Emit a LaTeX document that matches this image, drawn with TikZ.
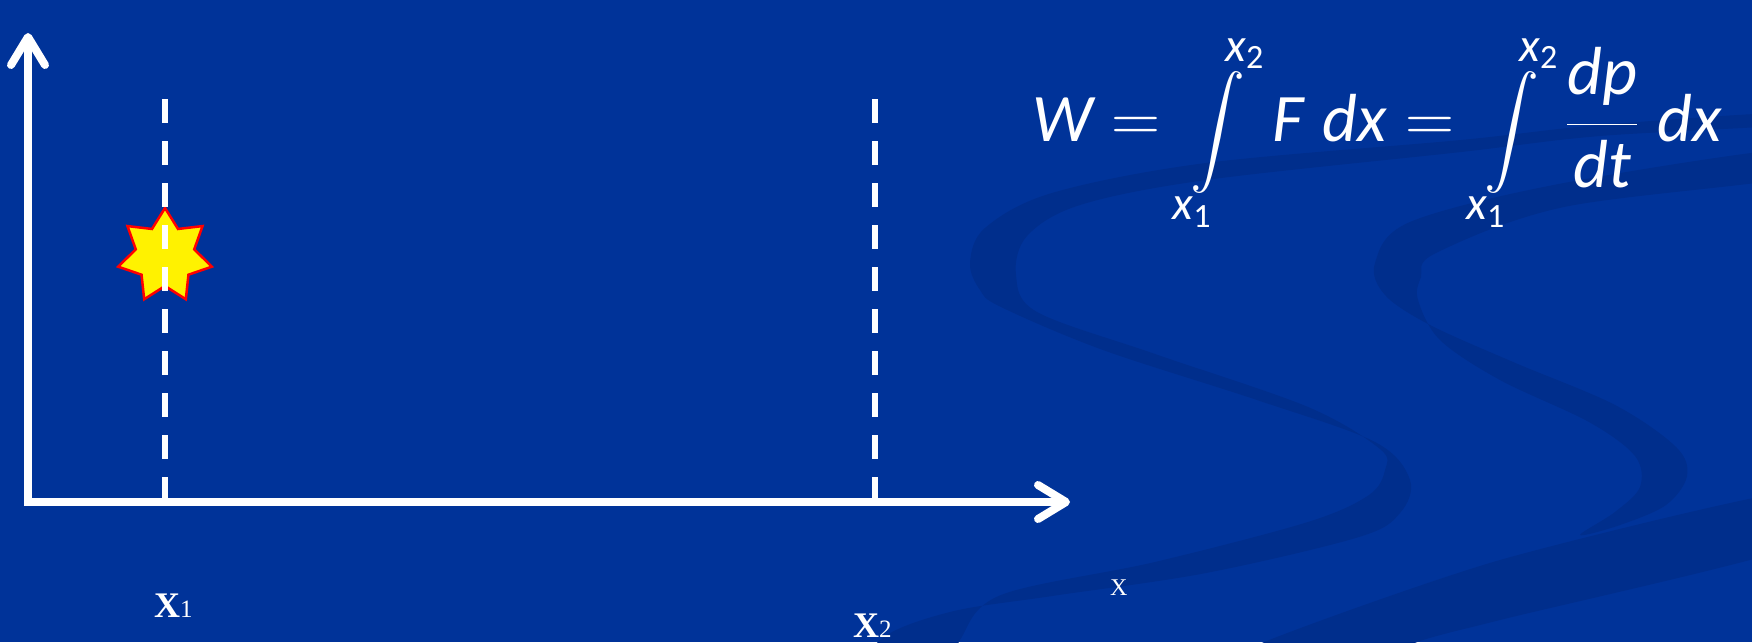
\RequirePackage{fix-cm}
\documentclass[tikz,border=0pt]{standalone}
\usepackage{amsmath}
\usepackage{fontspec}
\setmainfont{Liberation Serif}
\newfontfamily\calibri{Carlito}
\usetikzlibrary{arrows.meta}

\definecolor{bgblue}{RGB}{0,51,153}
\definecolor{swirlblue}{RGB}{0,46,140}

% буквы формулы в стиле Calibri
\newcommand{\mv}[1]{\text{\calibri\itshape #1}}
\newcommand{\md}[1]{\text{\calibri #1}}
% большой знак интеграла
\newcommand{\bigint}{\mathop{\lower8pt\hbox{$\vcenter{\hbox{%
    \resizebox*{!}{122pt}{$\displaystyle\intop$}}}$}}\limits}
% пределы интегрирования
\newcommand{\lowlim}{\mkern-10mu\mv{x}_{\md{1}}\mkern10mu}
\newcommand{\uplim}{\mkern10mu\mv{x}_{\md{2}}\mkern-10mu}

\begin{document}
\begin{tikzpicture}[
    x={(1pt,0pt)},
    y={(0pt,-1pt)},
    >={Straight Barb[length=28pt,width=34pt,round]},
    axis/.style={line width=8pt, white, line join=miter},
    guide/.style={
        line width=6pt,
        white,
        dash pattern=on 24pt off 18pt
    },
    starfill/.style={fill=yellow, draw=red, line width=2.5pt},
    swirl/.style={fill=swirlblue},
    label/.style={text=white, inner sep=0pt, anchor=base west}
]

% =========================================================
% Параметры рисунка
% =========================================================

\def\W{1752}    % ширина
\def\Ht{642}    % высота
\def\Ro{48}     % внешний радиус звезды
\def\Ri{30}     % внутренний радиус звезды

% =========================================================
% Фон
% =========================================================

\fill[bgblue] (0,0) rectangle (\W,\Ht);
\useasboundingbox (0,0) rectangle (\W,\Ht);

% =========================================================
% Тёмные завитки на фоне
% =========================================================

\begin{scope}
\clip (0,0) rectangle (\W,\Ht);

\fill[swirl]
    plot[smooth cycle, tension=0.55] coordinates {
        (1800,112) (1600,125) (1461,140) (1206,163) (1052,193)
        (985,228) (970,263) (980,290) (1001,307) (1103,350)
        (1257,400) (1375,442) (1410,480) (1400,513) (1359,537)
        (1206,573) (1052,596) (950,612) (880,640) (860,690)
        (940,690) (960,640) (1001,595) (1155,562) (1308,522)
        (1369,495) (1385,470) (1380,449) (1308,407) (1155,354)
        (1037,312) (1016,275) (1027,236) (1080,205) (1206,180)
        (1461,152) (1600,136) (1800,124)
    };

\fill[swirl]
    plot[smooth cycle, tension=0.55] coordinates {
        (1800,148) (1564,183) (1410,222) (1375,263) (1385,295)
        (1430,325) (1513,362) (1615,405) (1676,447) (1687,476)
        (1666,505) (1620,525) (1580,535)
        (1615,512) (1640,487) (1635,456) (1589,422) (1500,380)
        (1440,340) (1418,300) (1421,277) (1436,253) (1564,207)
        (1800,176)
    };

\fill[swirl]
    plot[smooth cycle, tension=0.4] coordinates {
        (1200,690) (1257,645) (1500,560) (1800,490)
        (1800,545) (1500,620) (1410,645) (1350,690)
    };
\end{scope}

% =========================================================
% Формула работы
% =========================================================

\node[label] (work) at (1032,141) {\fontsize{68}{74}\selectfont
    $\displaystyle \mv{W} = \,\bigint_{\lowlim}^{\uplim}
    \:\mv{F}\;\mv{dx} = \,\bigint_{\lowlim}^{\uplim}
    \:\frac{\mv{dp}}{\mv{dt}}\;\mv{dx}$};

% =========================================================
% Звезда
% =========================================================

\draw[starfill, shift={(165,256)}]
    (-90:\Ro)
    \foreach \k in {0,...,6} {
        -- ({-90+\k*360/7+180/7}:\Ri)
        -- ({-90+(\k+1)*360/7}:\Ro)
    } -- cycle;

% =========================================================
% Опорные точки
% =========================================================

\coordinate (O)    at (28,502);
\coordinate (Ytop) at (28,33);
\coordinate (Xend) at (1070,502);

\coordinate (A1) at (165,99);
\coordinate (B1) at (165,502);
\coordinate (A2) at (875,99);
\coordinate (B2) at (875,502);

% =========================================================
% Штриховые линии положений
% =========================================================

\draw[guide] (A1)--(B1);
\draw[guide] (A2)--(B2);

% =========================================================
% Оси
% =========================================================

\draw[axis, <->] (Ytop)--(O)--(Xend);

% =========================================================
% Подписи
% =========================================================

\node[label] (xone) at (154,617)
    {\fontsize{36}{40}\selectfont\bfseries X\mdseries\fontsize{25}{25}\selectfont 1};
\node[label] (xtwo) at (853,637)
    {\fontsize{36}{40}\selectfont\bfseries X\mdseries\fontsize{25}{25}\selectfont 2};
\node[label] (xaxis) at (1110,595)
    {\fontsize{24}{26}\selectfont X};

\end{tikzpicture}
\end{document}
